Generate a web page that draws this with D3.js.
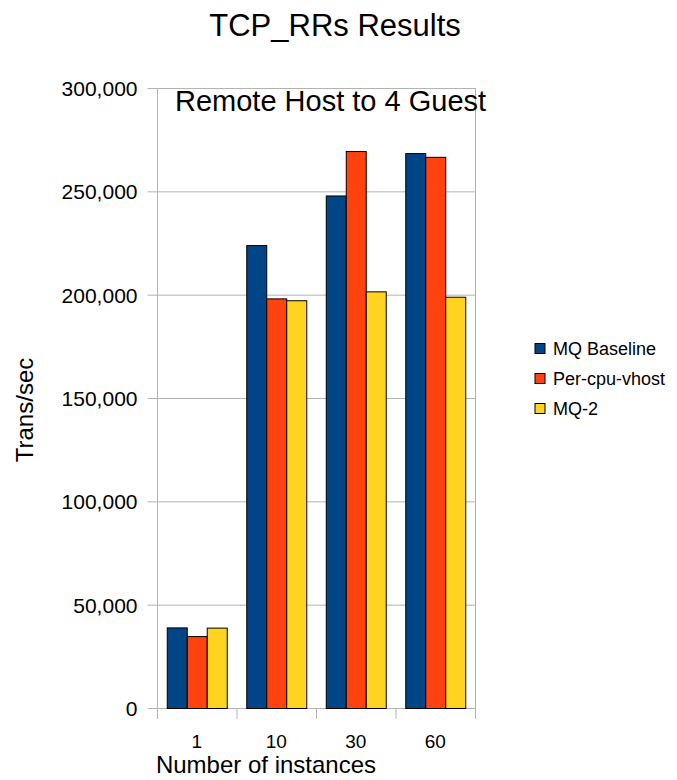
<!DOCTYPE html>
<meta charset="utf-8">
<script src="https://d3js.org/d3.v7.min.js"></script>
<style>
  body { margin: 0; background: #fff; }
  text { font-family: "Liberation Sans", Arial, sans-serif; fill: #000; }
</style>
<div id="chart"></div>
<script>
// data
var categories = ["1", "10", "30", "60"];
var seriesNames = ["MQ Baseline", "Per-cpu-vhost", "MQ-2"];
var mqBaseline = [39000, 224000, 248000, 268500];
var perCpuVhost = [34800, 198200, 269500, 266700];
var mq2 = [38900, 197300, 201600, 199000];
var yTicks = [0, 50000, 100000, 150000, 200000, 250000, 300000];
var colors = ["#004586", "#ff420e", "#ffd320"];

var series = [mqBaseline, perCpuVhost, mq2];

var W = 677, H = 780;
var plotLeft = 157, plotRight = 475, plotTop = 88, plotBottom = 708;

var svg = d3.select("#chart").append("svg")
  .attr("width", W)
  .attr("height", H);

var x = d3.scaleBand()
  .domain(categories)
  .range([plotLeft, plotRight])
  .paddingInner(0)
  .paddingOuter(0);

var xInner = d3.scaleBand()
  .domain(d3.range(series.length))
  .range([0, 60]);

var y = d3.scaleLinear()
  .domain([0, 300000])
  .range([plotBottom, plotTop]);

// grid
svg.append("g")
  .selectAll("line")
  .data(yTicks)
  .enter().append("line")
    .attr("x1", plotLeft).attr("x2", plotRight)
    .attr("y1", function(d) { return y(d) + 0.5; })
    .attr("y2", function(d) { return y(d) + 0.5; })
    .attr("stroke", "#b3b3b3");

svg.append("line")
  .attr("x1", plotRight + 0.5).attr("x2", plotRight + 0.5)
  .attr("y1", plotTop).attr("y2", plotBottom)
  .attr("stroke", "#b3b3b3");

// y axis
var yAxis = svg.append("g")
  .attr("transform", "translate(" + (plotLeft + 0.5) + ",0)")
  .call(d3.axisLeft(y).tickValues(yTicks).tickSize(10).tickPadding(10)
    .tickFormat(d3.format(",")));
yAxis.selectAll("line, path").attr("stroke", "#b3b3b3");
yAxis.select(".domain").attr("d", "M0," + plotTop + "V" + plotBottom);
yAxis.selectAll("text")
  .style("font-family", "Liberation Sans, Arial, sans-serif")
  .style("font-size", "21px")
  .attr("dy", "0.36em");

// x axis boundary ticks
var bounds = categories.map(function(c) { return x(c); }).concat([plotRight]);
svg.append("g")
  .selectAll("line")
  .data(bounds)
  .enter().append("line")
    .attr("x1", function(d) { return d + 0.5; })
    .attr("x2", function(d) { return d + 0.5; })
    .attr("y1", plotBottom).attr("y2", plotBottom + 11)
    .attr("stroke", "#b3b3b3");

svg.append("g")
  .selectAll("text")
  .data(categories)
  .enter().append("text")
    .attr("x", function(d) { return x(d) + x.bandwidth() / 2; })
    .attr("y", 748)
    .attr("text-anchor", "middle")
    .style("font-size", "19px")
    .text(function(d) { return d; });

// bars
var pad = (x.bandwidth() - 60) / 2;
series.forEach(function(vals, i) {
  svg.append("g")
    .selectAll("rect")
    .data(vals)
    .enter().append("rect")
      .attr("x", function(d, j) { return x(categories[j]) + pad + xInner(i) + 0.5; })
      .attr("y", function(d) { return y(d) + 0.5; })
      .attr("width", xInner.bandwidth())
      .attr("height", function(d) { return plotBottom - y(d); })
      .attr("fill", colors[i])
      .attr("stroke", "#000")
      .attr("stroke-width", 1);
});

// titles
svg.append("text")
  .attr("x", 335).attr("y", 36)
  .attr("text-anchor", "middle")
  .style("font-size", "31px")
  .text("TCP_RRs Results");

svg.append("text")
  .attr("x", 175).attr("y", 111)
  .style("font-size", "29px")
  .text("Remote Host to 4 Guest");

svg.append("text")
  .attr("x", 266).attr("y", 773)
  .attr("text-anchor", "middle")
  .style("font-size", "24px")
  .text("Number of instances");

svg.append("text")
  .attr("transform", "translate(33,410) rotate(-90)")
  .attr("text-anchor", "middle")
  .style("font-size", "24px")
  .text("Trans/sec");

// legend
var legend = svg.append("g")
  .selectAll("g")
  .data(seriesNames)
  .enter().append("g")
    .attr("transform", function(d, i) { return "translate(535," + (343.5 + i * 30) + ")"; });

legend.append("rect")
  .attr("width", 10).attr("height", 10)
  .attr("fill", function(d, i) { return colors[i]; })
  .attr("stroke", "#000");

legend.append("text")
  .attr("x", 18).attr("y", 11)
  .style("font-size", "18px")
  .text(function(d) { return d; });
</script>
